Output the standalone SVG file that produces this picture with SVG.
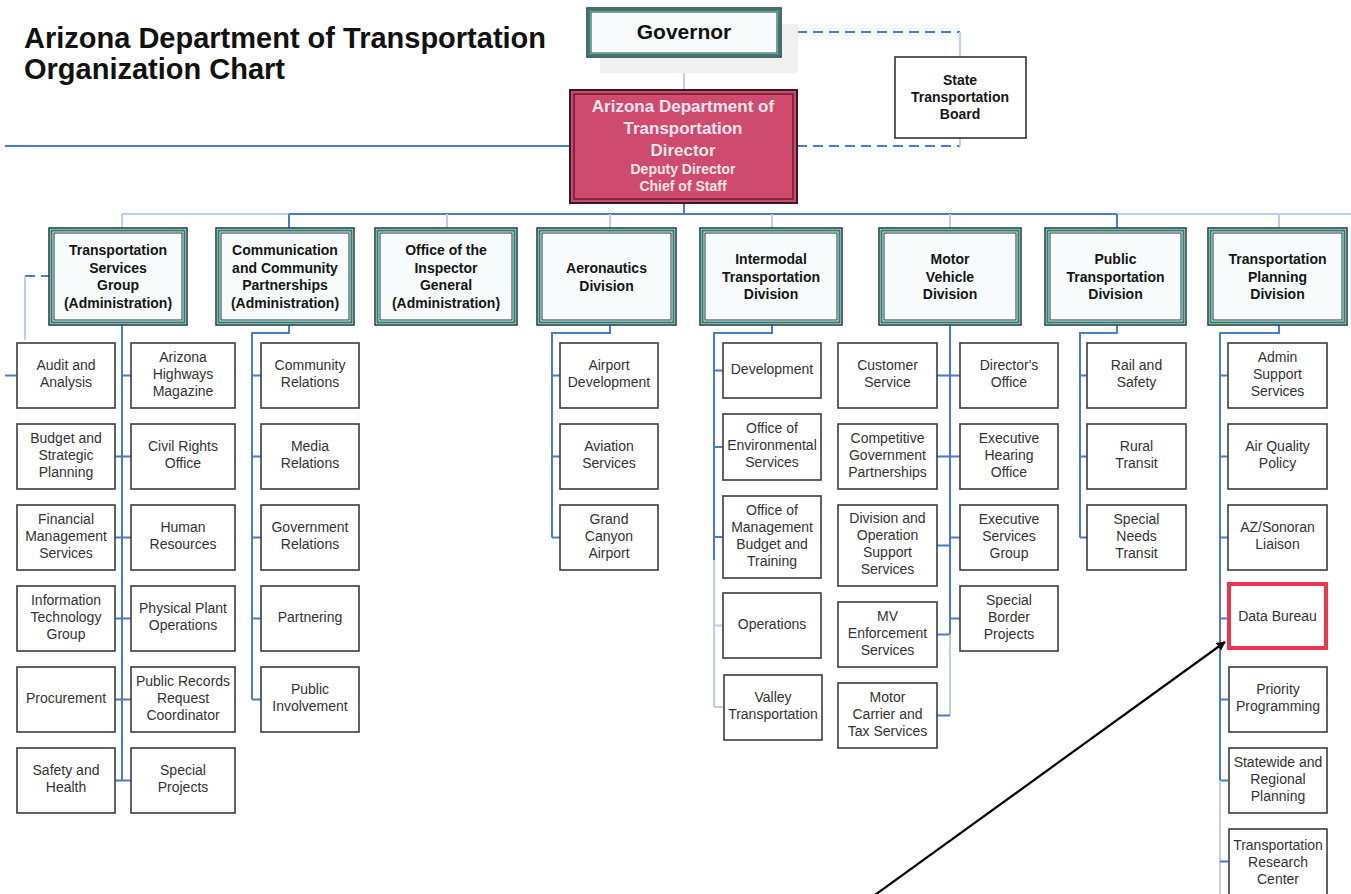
<svg xmlns="http://www.w3.org/2000/svg" width="1351" height="894" viewBox="0 0 1351 894">
<defs>
<style>
.title{font:bold 29px 'Liberation Sans',Arial,sans-serif;fill:#111}
.t2{font:bold 14px 'Liberation Sans',Arial,sans-serif;fill:#151515;text-anchor:middle}
.t3{font:14px 'Liberation Sans',Arial,sans-serif;fill:#333;text-anchor:middle}
.tdir{font:bold 17px 'Liberation Sans',Arial,sans-serif;fill:#f6e6ec;text-anchor:middle}
.tdir2{font:bold 14px 'Liberation Sans',Arial,sans-serif;fill:#f6e6ec;text-anchor:middle}
.b3{fill:#fff;stroke:#3c3c3c;stroke-width:1.6}
.o1{fill:#f7fbfb;stroke:#1b3838;stroke-width:1.5}
.o2{fill:none;stroke:#2f7f76;stroke-width:2.2}
.o3{fill:none;stroke:#1b3838;stroke-width:1}
.c{fill:none;stroke:#4a7bcc;stroke-width:2}
.cl{fill:none;stroke:#bccfee;stroke-width:2}
.d{fill:none;stroke:#4a7bcc;stroke-width:2;stroke-dasharray:10 6}
</style>
<marker id="ah" viewBox="0 0 10 10" refX="9" refY="5" markerWidth="9" markerHeight="9" markerUnits="userSpaceOnUse" orient="auto">
<path d="M0,0 L10,5 L0,10 z" fill="#000"/>
</marker>
</defs>
<rect width="1351" height="894" fill="#fff"/>
<text class="title" x="24" y="48">Arizona Department of Transportation</text>
<text class="title" x="24" y="79">Organization Chart</text>

<g id="connectors">
<line class="cl" x1="684" y1="57" x2="684" y2="90"/>
<path class="d" d="M781,32 H960"/>
<path class="cl" d="M960,32 V57"/>
<path class="d" d="M797,146 H960"/>
<path class="cl" d="M960,138 V146"/>
<line class="c" x1="5" y1="146" x2="570" y2="146"/>
<line class="c" x1="684" y1="203" x2="684" y2="214"/>
<path class="cl" d="M122,214 H1351"/>
<path class="c" d="M289,214 H1117"/>
<path class="cl" d="M122,214 V228 M447,214 V228 M610,214 V228 M772,214 V228 M950,214 V228 M1279,214 V228"/>
<path class="c" d="M289,214 V228 M1117,214 V228"/>
<!-- TSG -->
<path class="d" d="M25,276 H49"/>
<path class="cl" d="M25,276 V340"/>
<path class="c" d="M5,375.5 H17"/>
<path class="c" d="M122,325 V780.5 M122,375.5 H131 M115,456.5 H131 M115,537.5 H131 M115,618.5 H131 M115,699.5 H131 M115,780.5 H131"/>
<!-- CCP -->
<path class="c" d="M289,325 V333 H252 V699.5 M252,375.5 H261 M252,456.5 H261 M252,537.5 H261 M252,618.5 H261 M252,699.5 H261"/>
<!-- Aero -->
<path class="c" d="M610,325 V333 H552 V537.5 M552,375.5 H560 M552,456.5 H560 M552,537.5 H560"/>
<!-- Intermodal -->
<path class="c" d="M772,325 V333 H714 V560 M714,370.5 H723 M714,447 H723 M714,537 H723"/>
<path class="cl" d="M714,560 V707 M714,625.5 H723 M714,707 H723"/>
<!-- MVD -->
<path class="c" d="M950,325 V634.5 M937,375.5 H960 M937,456.5 H960 M937,545.5 H950 M950,537.5 H960 M937,634.5 H950 M950,618.5 H960"/>
<path class="cl" d="M950,634.5 V715.5"/>
<path class="c" d="M937,715.5 H950"/>
<!-- PTD -->
<path class="c" d="M1117,325 V333 H1080 V537.5 M1080,375.5 H1087 M1080,456.5 H1087 M1080,537.5 H1087"/>
<!-- TPD -->
<path class="c" d="M1279,325 V333 H1220 V780.5 M1220,375.5 H1228 M1220,456.5 H1228 M1220,537.5 H1228 M1220,618.5 H1228 M1220,699.5 H1228 M1220,780.5 H1228"/>
<path class="cl" d="M1220,780.5 V894"/>
<path class="c" d="M1220,861.5 H1228"/>
</g>

<g id="governor">
<rect x="600" y="24" width="198" height="49" fill="#f0f0f0"/>
<rect x="587" y="8" width="194" height="49" class="o1" fill="#fbfdfd"/>
<rect x="589" y="10" width="190" height="45" class="o2"/>
<rect x="591" y="12" width="186" height="41" class="o3"/>
<text x="684" y="39" style="font:bold 21px 'Liberation Sans',Arial,sans-serif;fill:#111;text-anchor:middle">Governor</text>
</g>

<g id="director">
<rect x="570" y="90" width="227" height="113" fill="#cf4a6f" stroke="#3a1a22" stroke-width="2"/>
<rect x="574" y="94" width="219" height="105" fill="none" stroke="#6e1b30" stroke-width="1.5"/>
<text class="tdir" x="683" y="112">Arizona Department of</text>
<text class="tdir" x="683" y="134">Transportation</text>
<text class="tdir" x="683" y="156">Director</text>
<text class="tdir2" x="683" y="174">Deputy Director</text>
<text class="tdir2" x="683" y="191">Chief of Staff</text>
</g>

<g id="board">
<rect x="895" y="57" width="131" height="81" fill="#fff" stroke="#333" stroke-width="1.6"/>
<text class="t2" x="960" y="85">State</text>
<text class="t2" x="960" y="102">Transportation</text>
<text class="t2" x="960" y="119">Board</text>
</g>

<g id="tsg">
<rect class="o1" x="49" y="228" width="138" height="97"/><rect class="o2" x="51.5" y="230.5" width="133" height="92"/><rect class="o3" x="54" y="233" width="128" height="87"/>
<text class="t2" x="118" y="255">Transportation</text><text class="t2" x="118" y="272.5">Services</text><text class="t2" x="118" y="290">Group</text><text class="t2" x="118" y="307.5">(Administration)</text>
</g>
<g id="ccp">
<rect class="o1" x="216" y="228" width="138" height="97"/><rect class="o2" x="218.5" y="230.5" width="133" height="92"/><rect class="o3" x="221" y="233" width="128" height="87"/>
<text class="t2" x="285" y="255">Communication</text><text class="t2" x="285" y="272.5">and Community</text><text class="t2" x="285" y="290">Partnerships</text><text class="t2" x="285" y="307.5">(Administration)</text>
</g>
<g id="oig">
<rect class="o1" x="375" y="228" width="142" height="97"/><rect class="o2" x="377.5" y="230.5" width="137" height="92"/><rect class="o3" x="380" y="233" width="132" height="87"/>
<text class="t2" x="446" y="255">Office of the</text><text class="t2" x="446" y="272.5">Inspector</text><text class="t2" x="446" y="290">General</text><text class="t2" x="446" y="307.5">(Administration)</text>
</g>
<g id="aero">
<rect class="o1" x="537" y="228" width="139" height="97"/><rect class="o2" x="539.5" y="230.5" width="134" height="92"/><rect class="o3" x="542" y="233" width="129" height="87"/>
<text class="t2" x="606.5" y="273">Aeronautics</text><text class="t2" x="606.5" y="290.5">Division</text>
</g>
<g id="itd">
<rect class="o1" x="700" y="228" width="142" height="97"/><rect class="o2" x="702.5" y="230.5" width="137" height="92"/><rect class="o3" x="705" y="233" width="132" height="87"/>
<text class="t2" x="771" y="264">Intermodal</text><text class="t2" x="771" y="281.5">Transportation</text><text class="t2" x="771" y="299">Division</text>
</g>
<g id="mvd">
<rect class="o1" x="879" y="228" width="142" height="97"/><rect class="o2" x="881.5" y="230.5" width="137" height="92"/><rect class="o3" x="884" y="233" width="132" height="87"/>
<text class="t2" x="950" y="264">Motor</text><text class="t2" x="950" y="281.5">Vehicle</text><text class="t2" x="950" y="299">Division</text>
</g>
<g id="ptd">
<rect class="o1" x="1045" y="228" width="141" height="97"/><rect class="o2" x="1047.5" y="230.5" width="136" height="92"/><rect class="o3" x="1050" y="233" width="131" height="87"/>
<text class="t2" x="1115.5" y="264">Public</text><text class="t2" x="1115.5" y="281.5">Transportation</text><text class="t2" x="1115.5" y="299">Division</text>
</g>
<g id="tpd">
<rect class="o1" x="1208" y="228" width="139" height="97"/><rect class="o2" x="1210.5" y="230.5" width="134" height="92"/><rect class="o3" x="1213" y="233" width="129" height="87"/>
<text class="t2" x="1277.5" y="264">Transportation</text><text class="t2" x="1277.5" y="281.5">Planning</text><text class="t2" x="1277.5" y="299">Division</text>
</g>

<!-- TSG children -->
<g id="audit"><rect class="b3" x="17" y="343" width="98" height="65"/><text class="t3" x="66" y="370">Audit and</text><text class="t3" x="66" y="387">Analysis</text></g>
<g id="budget"><rect class="b3" x="17" y="424" width="98" height="65"/><text class="t3" x="66" y="442.5">Budget and</text><text class="t3" x="66" y="459.5">Strategic</text><text class="t3" x="66" y="476.5">Planning</text></g>
<g id="financial"><rect class="b3" x="17" y="505" width="98" height="65"/><text class="t3" x="66" y="523.5">Financial</text><text class="t3" x="66" y="540.5">Management</text><text class="t3" x="66" y="557.5">Services</text></g>
<g id="infotech"><rect class="b3" x="17" y="586" width="98" height="65"/><text class="t3" x="66" y="604.5">Information</text><text class="t3" x="66" y="621.5">Technology</text><text class="t3" x="66" y="638.5">Group</text></g>
<g id="procurement"><rect class="b3" x="17" y="667" width="98" height="65"/><text class="t3" x="66" y="703">Procurement</text></g>
<g id="safety"><rect class="b3" x="17" y="748" width="98" height="65"/><text class="t3" x="66" y="775">Safety and</text><text class="t3" x="66" y="792">Health</text></g>
<g id="azhighways"><rect class="b3" x="131" y="343" width="104" height="65"/><text class="t3" x="183" y="361.5">Arizona</text><text class="t3" x="183" y="378.5">Highways</text><text class="t3" x="183" y="395.5">Magazine</text></g>
<g id="civilrights"><rect class="b3" x="131" y="424" width="104" height="65"/><text class="t3" x="183" y="451">Civil Rights</text><text class="t3" x="183" y="468">Office</text></g>
<g id="hr"><rect class="b3" x="131" y="505" width="104" height="65"/><text class="t3" x="183" y="532">Human</text><text class="t3" x="183" y="549">Resources</text></g>
<g id="physplant"><rect class="b3" x="131" y="586" width="104" height="65"/><text class="t3" x="183" y="613">Physical Plant</text><text class="t3" x="183" y="630">Operations</text></g>
<g id="publicrecords"><rect class="b3" x="131" y="667" width="104" height="65"/><text class="t3" x="183" y="685.5">Public Records</text><text class="t3" x="183" y="702.5">Request</text><text class="t3" x="183" y="719.5">Coordinator</text></g>
<g id="specialprojects"><rect class="b3" x="131" y="748" width="104" height="65"/><text class="t3" x="183" y="775">Special</text><text class="t3" x="183" y="792">Projects</text></g>

<!-- CCP children -->
<g id="community"><rect class="b3" x="261" y="343" width="98" height="65"/><text class="t3" x="310" y="370">Community</text><text class="t3" x="310" y="387">Relations</text></g>
<g id="media"><rect class="b3" x="261" y="424" width="98" height="65"/><text class="t3" x="310" y="451">Media</text><text class="t3" x="310" y="468">Relations</text></g>
<g id="government"><rect class="b3" x="261" y="505" width="98" height="65"/><text class="t3" x="310" y="532">Government</text><text class="t3" x="310" y="549">Relations</text></g>
<g id="partnering"><rect class="b3" x="261" y="586" width="98" height="65"/><text class="t3" x="310" y="622">Partnering</text></g>
<g id="involvement"><rect class="b3" x="261" y="667" width="98" height="65"/><text class="t3" x="310" y="694">Public</text><text class="t3" x="310" y="711">Involvement</text></g>

<!-- Aero children -->
<g id="airportdev"><rect class="b3" x="560" y="343" width="98" height="65"/><text class="t3" x="609" y="370">Airport</text><text class="t3" x="609" y="387">Development</text></g>
<g id="aviation"><rect class="b3" x="560" y="424" width="98" height="65"/><text class="t3" x="609" y="451">Aviation</text><text class="t3" x="609" y="468">Services</text></g>
<g id="grandcanyon"><rect class="b3" x="560" y="505" width="98" height="65"/><text class="t3" x="609" y="523.5">Grand</text><text class="t3" x="609" y="540.5">Canyon</text><text class="t3" x="609" y="557.5">Airport</text></g>

<!-- Intermodal children -->
<g id="development"><rect class="b3" x="723" y="343" width="98" height="55"/><text class="t3" x="772" y="374">Development</text></g>
<g id="environmental"><rect class="b3" x="723" y="414" width="98" height="66"/><text class="t3" x="772" y="433">Office of</text><text class="t3" x="772" y="450">Environmental</text><text class="t3" x="772" y="467">Services</text></g>
<g id="ombt"><rect class="b3" x="723" y="496" width="98" height="82"/><text class="t3" x="772" y="514.5">Office of</text><text class="t3" x="772" y="531.5">Management</text><text class="t3" x="772" y="548.5">Budget and</text><text class="t3" x="772" y="565.5">Training</text></g>
<g id="operations"><rect class="b3" x="723" y="593" width="98" height="65"/><text class="t3" x="772" y="629">Operations</text></g>
<g id="valley"><rect class="b3" x="724" y="675" width="98" height="65"/><text class="t3" x="773" y="702">Valley</text><text class="t3" x="773" y="719">Transportation</text></g>

<!-- MVD children -->
<g id="customer"><rect class="b3" x="838" y="343" width="99" height="65"/><text class="t3" x="887.5" y="370">Customer</text><text class="t3" x="887.5" y="387">Service</text></g>
<g id="competitive"><rect class="b3" x="838" y="424" width="99" height="65"/><text class="t3" x="887.5" y="442.5">Competitive</text><text class="t3" x="887.5" y="459.5">Government</text><text class="t3" x="887.5" y="476.5">Partnerships</text></g>
<g id="divops"><rect class="b3" x="838" y="505" width="99" height="81"/><text class="t3" x="887.5" y="523">Division and</text><text class="t3" x="887.5" y="540">Operation</text><text class="t3" x="887.5" y="557">Support</text><text class="t3" x="887.5" y="574">Services</text></g>
<g id="mvenforcement"><rect class="b3" x="838" y="602" width="99" height="65"/><text class="t3" x="887.5" y="620.5">MV</text><text class="t3" x="887.5" y="637.5">Enforcement</text><text class="t3" x="887.5" y="654.5">Services</text></g>
<g id="motorcarrier"><rect class="b3" x="838" y="683" width="99" height="65"/><text class="t3" x="887.5" y="701.5">Motor</text><text class="t3" x="887.5" y="718.5">Carrier and</text><text class="t3" x="887.5" y="735.5">Tax Services</text></g>
<g id="directors"><rect class="b3" x="960" y="343" width="98" height="65"/><text class="t3" x="1009" y="370">Director's</text><text class="t3" x="1009" y="387">Office</text></g>
<g id="hearing"><rect class="b3" x="960" y="424" width="98" height="65"/><text class="t3" x="1009" y="442.5">Executive</text><text class="t3" x="1009" y="459.5">Hearing</text><text class="t3" x="1009" y="476.5">Office</text></g>
<g id="execservices"><rect class="b3" x="960" y="505" width="98" height="65"/><text class="t3" x="1009" y="523.5">Executive</text><text class="t3" x="1009" y="540.5">Services</text><text class="t3" x="1009" y="557.5">Group</text></g>
<g id="border"><rect class="b3" x="960" y="586" width="98" height="65"/><text class="t3" x="1009" y="604.5">Special</text><text class="t3" x="1009" y="621.5">Border</text><text class="t3" x="1009" y="638.5">Projects</text></g>

<!-- PTD children -->
<g id="rail"><rect class="b3" x="1087" y="343" width="99" height="65"/><text class="t3" x="1136.5" y="370">Rail and</text><text class="t3" x="1136.5" y="387">Safety</text></g>
<g id="rural"><rect class="b3" x="1087" y="424" width="99" height="65"/><text class="t3" x="1136.5" y="451">Rural</text><text class="t3" x="1136.5" y="468">Transit</text></g>
<g id="specialneeds"><rect class="b3" x="1087" y="505" width="99" height="65"/><text class="t3" x="1136.5" y="523.5">Special</text><text class="t3" x="1136.5" y="540.5">Needs</text><text class="t3" x="1136.5" y="557.5">Transit</text></g>

<!-- TPD children -->
<g id="adminsupport"><rect class="b3" x="1228" y="343" width="99" height="65"/><text class="t3" x="1277.5" y="361.5">Admin</text><text class="t3" x="1277.5" y="378.5">Support</text><text class="t3" x="1277.5" y="395.5">Services</text></g>
<g id="airquality"><rect class="b3" x="1228" y="424" width="99" height="65"/><text class="t3" x="1277.5" y="451">Air Quality</text><text class="t3" x="1277.5" y="468">Policy</text></g>
<g id="sonoran"><rect class="b3" x="1228" y="505" width="99" height="65"/><text class="t3" x="1277.5" y="532">AZ/Sonoran</text><text class="t3" x="1277.5" y="549">Liaison</text></g>
<g id="databureau"><rect x="1229" y="584" width="97" height="64" fill="#fff" stroke="#f0344e" stroke-width="4"/><text class="t3" x="1277.5" y="621">Data Bureau</text></g>
<g id="priority"><rect class="b3" x="1229" y="667" width="98" height="65"/><text class="t3" x="1278" y="694">Priority</text><text class="t3" x="1278" y="711">Programming</text></g>
<g id="statewide"><rect class="b3" x="1229" y="748" width="98" height="65"/><text class="t3" x="1278" y="766.5">Statewide and</text><text class="t3" x="1278" y="783.5">Regional</text><text class="t3" x="1278" y="800.5">Planning</text></g>
<g id="research"><rect class="b3" x="1229" y="829" width="98" height="80"/><text class="t3" x="1278" y="850">Transportation</text><text class="t3" x="1278" y="867">Research</text><text class="t3" x="1278" y="884">Center</text></g>

<g id="arrow">
<line x1="868" y1="900" x2="1225" y2="642" stroke="#000" stroke-width="2.2" marker-end="url(#ah)"/>
</g>
</svg>
